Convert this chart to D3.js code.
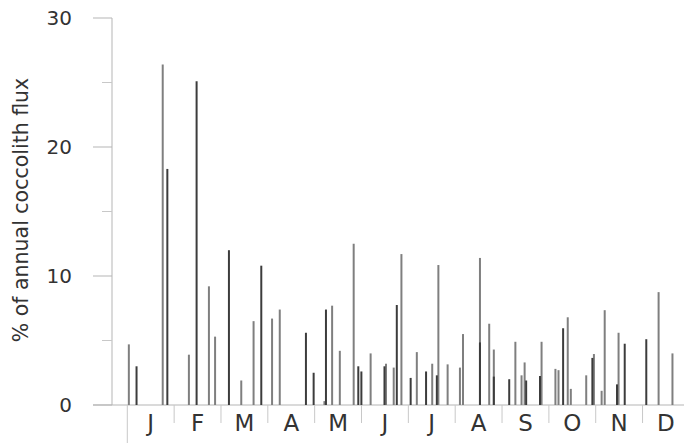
<!DOCTYPE html>
<html>
<head>
<meta charset="utf-8">
<script src="https://cdn.jsdelivr.net/npm/d3@7"></script>
<style>
  body { margin: 0; background: #fff; }
  text { font-family: "DejaVu Sans", Lato, sans-serif; fill: #333; }
</style>
</head>
<body>
<div id="grafica"></div>
<script>
// --- Datos: dia del año y % del flujo anual
const months = ['J', 'F', 'M', 'A', 'M', 'J', 'J', 'A', 'S', 'O', 'N', 'D'];
const yTicks = [0, 10, 20, 30];
const yMinorTicks = [5, 15, 25];

const greyDays = [1, 23, 40, 53, 57, 74, 82, 94, 99, 128, 133, 138, 147, 158, 168, 173, 178, 188,
                  198, 202, 208, 216, 218, 229, 235, 238, 252, 256, 258, 269, 278, 280, 286, 288,
                  298, 303, 308, 310, 319, 345, 354];
const greyValues = [4.7, 26.4, 3.9, 9.2, 5.3, 1.9, 6.5, 6.7, 7.4, 0.3, 7.7, 4.2, 12.5, 4.0, 3.2, 2.9, 11.7, 4.1,
                    3.2, 10.85, 3.15, 2.9, 5.5, 11.4, 6.3, 4.3, 4.9, 2.3, 3.3, 4.9, 2.8, 2.7, 6.8, 1.25,
                    2.3, 3.95, 1.1, 7.35, 5.6, 8.75, 4.0];

const darkDays = [6, 26, 45, 66, 87, 116, 121, 129, 150, 152, 167, 175, 184, 194, 201, 229, 238,
                  248, 259, 268, 283, 302, 318, 323, 337];
const darkValues = [3.0, 18.3, 25.1, 12.0, 10.8, 5.6, 2.5, 7.4, 3.0, 2.6, 3.0, 7.75, 2.1, 2.6, 2.3, 4.85, 2.2,
                    2.0, 1.9, 2.25, 5.95, 3.65, 1.6, 4.75, 5.1];

const widthApp = 684;
const heightApp = 443;

const x = d3.scaleLinear().domain([0, 365]).range([127.3, 689.4]);
const y = d3.scaleLinear().domain([0, 30]).range([405, 18]);
const axisX = 112;

const svg = d3.select('#grafica')
              .append('svg')
              .attr('width', widthApp)
              .attr('height', heightApp);

// eje y
svg.append('line')
   .attr('x1', axisX).attr('x2', axisX)
   .attr('y1', y(30)).attr('y2', y(0))
   .attr('stroke', '#b5b5b5');
svg.selectAll('.major')
   .data(yTicks)
   .enter()
   .append('line')
   .attr('x1', 93).attr('x2', axisX)
   .attr('y1', (d) => y(d)).attr('y2', (d) => y(d))
   .attr('stroke', '#b5b5b5');
svg.selectAll('.minor')
   .data(yMinorTicks)
   .enter()
   .append('line')
   .attr('x1', 102).attr('x2', axisX)
   .attr('y1', (d) => y(d)).attr('y2', (d) => y(d))
   .attr('stroke', '#c8c8c8');
svg.selectAll('.ylabel')
   .data(yTicks)
   .enter()
   .append('text')
   .attr('x', 72)
   .attr('y', (d) => y(d))
   .attr('text-anchor', 'end')
   .attr('dominant-baseline', 'central')
   .style('font-size', '20px')
   .text((d) => d);

svg.append('text')
   .attr('transform', 'translate(21,' + 210 + ') rotate(-90)')
   .attr('text-anchor', 'middle')
   .attr('dominant-baseline', 'central')
   .style('font-size', '20.5px')
   .text('% of annual coccolith flux');

// eje x
svg.append('line')
   .attr('x1', 93).attr('x2', widthApp)
   .attr('y1', y(0)).attr('y2', y(0))
   .attr('stroke', '#b5b5b5');
svg.selectAll('.sep')
   .data(months)
   .enter()
   .append('line')
   .attr('x1', (d, i) => x(i * 365 / 12))
   .attr('x2', (d, i) => x(i * 365 / 12))
   .attr('y1', y(0))
   .attr('y2', (d, i) => i === 0 ? 443 : 423)
   .attr('stroke', '#c8c8c8');
svg.selectAll('.month')
   .data(months)
   .enter()
   .append('text')
   .attr('x', (d, i) => x((i + 0.5) * 365 / 12))
   .attr('y', 431)
   .attr('text-anchor', 'middle')
   .style('font-size', '23px')
   .text((d) => d);

// barras
const greyData = greyDays.map((d, i) => ({ day: d, value: greyValues[i] }));
const darkData = darkDays.map((d, i) => ({ day: d, value: darkValues[i] }));

svg.selectAll('.grey')
   .data(greyData)
   .enter()
   .append('line')
   .attr('x1', (d) => x(d.day)).attr('x2', (d) => x(d.day))
   .attr('y1', y(0)).attr('y2', (d) => y(d.value))
   .attr('stroke', '#7f7f7f')
   .attr('stroke-width', 2);
svg.selectAll('.dark')
   .data(darkData)
   .enter()
   .append('line')
   .attr('x1', (d) => x(d.day)).attr('x2', (d) => x(d.day))
   .attr('y1', y(0)).attr('y2', (d) => y(d.value))
   .attr('stroke', '#3c3c3c')
   .attr('stroke-width', 2);
</script>
</body>
</html>
